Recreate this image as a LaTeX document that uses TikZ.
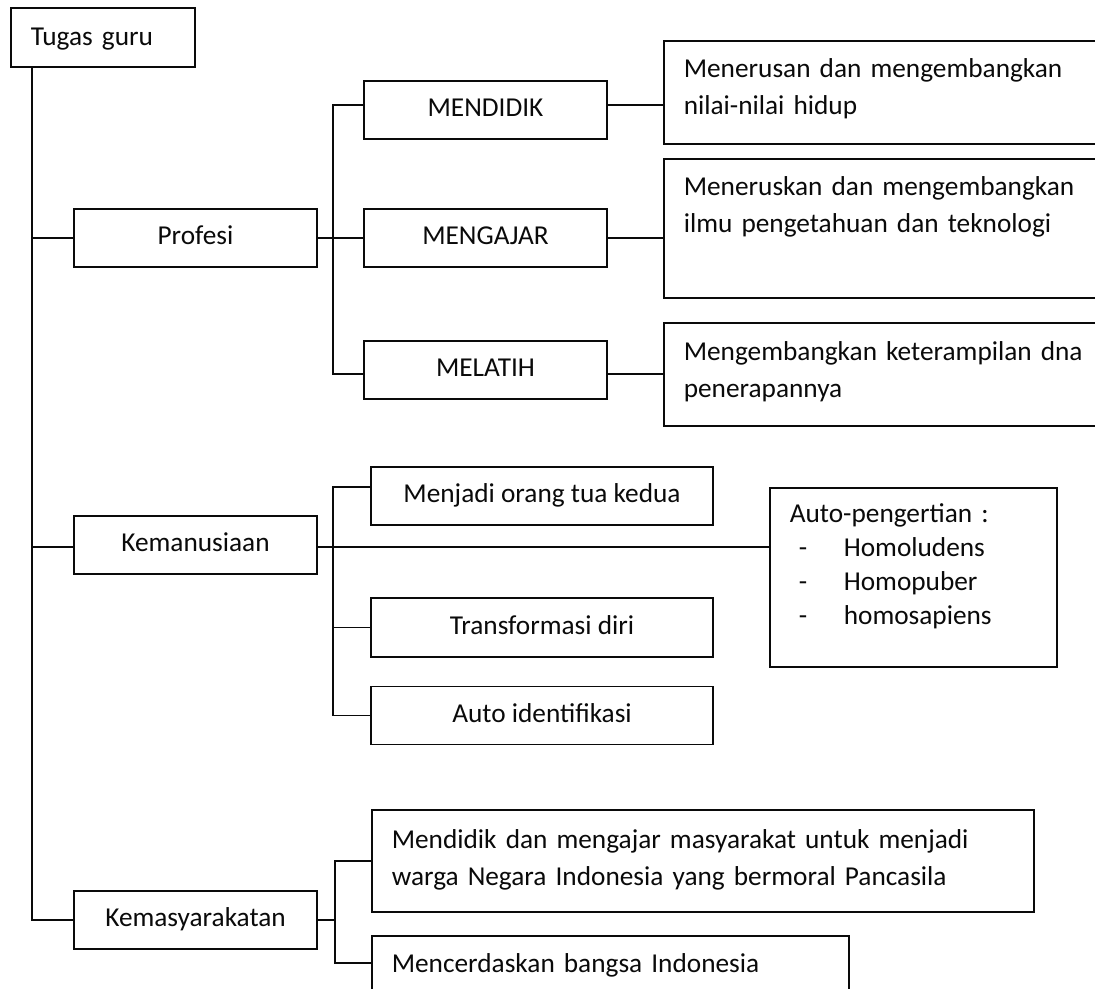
\documentclass[tikz,border=0pt]{standalone}
\usepackage{fontspec}
\setmainfont{Carlito}
\usepackage{tikz}
\usetikzlibrary{calc, positioning}
\definecolor{InkBlack}{RGB}{10, 10, 10}

\begin{document}
\begin{tikzpicture}[x=1bp, y=-1bp, line width=1.6bp, InkBlack,
    every node/.style={font=\fontsize{27.3bp}{37bp}\selectfont},
    catbox/.style={draw, inner sep=0pt, minimum height=58bp, text height=19bp, text depth=6bp},
    notebox/.style={draw, anchor=north west, align=left, inner xsep=20bp, inner ysep=0pt}]
    \useasboundingbox (0,0) rectangle (1095,989);
    \clip (0,0) rectangle (1095,989);
    % root
    \node[notebox, text width=144bp, text height=38bp, text depth=21bp] (tugas) at (10,7) {Tugas guru};
    % three tasks
    \node[catbox, minimum width=243bp] (profesi) at (195.5,238) {Profesi};
    \node[catbox, minimum width=243bp] (manusia) at (195.5,545) {Kemanusiaan};
    \node[catbox, minimum width=243bp] (masyarakat) at (195.5,920) {Kemasyarakatan};
    % Profesi
    \node[catbox, minimum width=243bp] (mendidik) at (485.5,110) {MENDIDIK};
    \node[catbox, minimum width=243bp] (mengajar) at (485.5,238) {MENGAJAR};
    \node[catbox, minimum width=243bp] (melatih) at (485.5,370) {MELATIH};
    \node[notebox, text width=440bp, text height=37bp, text depth=66bp] (nilai) at (663,40)
        {Menerusan dan mengembangkan\\nilai-nilai hidup};
    \node[notebox, text width=440bp, text height=37bp, text depth=102bp] (ilmu) at (663,158)
        {Meneruskan dan mengembangkan\\ilmu pengetahuan dan teknologi};
    \node[notebox, text width=440bp, text height=38bp, text depth=65bp] (terampil) at (663,322)
        {Mengembangkan keterampilan dna\\penerapannya};
    % Kemanusiaan
    \node[catbox, minimum width=342bp] (ortu) at (542,496) {Menjadi orang tua kedua};
    \node[catbox, minimum width=342bp, minimum height=59bp] (transformasi) at (542,627.5) {Transformasi diri};
    \node[catbox, minimum width=342bp] (autoid) at (542,715.5) {Auto identifikasi};
    \node[notebox, text width=247bp, text height=35bp, text depth=144bp,
        font=\fontsize{27.3bp}{34bp}\selectfont] (pengertian) at (769,487)
        {Auto-pengertian :\\
         \hspace*{9bp}\makebox[45bp][l]{-}Homoludens\\
         \hspace*{9bp}\makebox[45bp][l]{-}Homopuber\\
         \hspace*{9bp}\makebox[45bp][l]{-}homosapiens};
    % Kemasyarakatan
    \node[notebox, text width=622bp, text height=39bp, text depth=63bp] (warga) at (371,809)
        {Mendidik dan mengajar masyarakat untuk menjadi\\warga Negara Indonesia yang bermoral Pancasila};
    \node[notebox, text width=437bp, text height=37bp, text depth=40bp] (cerdas) at (371,935)
        {Mencerdaskan bangsa Indonesia};

    % trunk
    \draw ([xshift=22bp]tugas.south west) coordinate (trunk) |- (masyarakat.west);
    \draw (profesi.west) -- (profesi.west -| trunk);
    \draw ([yshift=-2bp]manusia.west) -- ([yshift=-2bp]manusia.west -| trunk);
    % Profesi branches
    \draw (profesi.east) -- (mengajar.west);
    \draw ([yshift=5bp]mendidik.west) -- ++(-30,0) |- ([yshift=-4bp]melatih.west);
    \draw ([yshift=5bp]mendidik.east) -- ([yshift=5bp]mendidik.east -| nilai.west);
    \draw (mengajar.east) -- (mengajar.east -| ilmu.west);
    \draw ([yshift=-4bp]melatih.east) -- ([yshift=-4bp]melatih.east -| terampil.west);
    % Kemanusiaan branches
    \draw ([yshift=-2bp]manusia.east) -- ([yshift=-2bp]manusia.east -| pengertian.west);
    \draw ([yshift=9bp]ortu.west) -- ++(-37,0) |- (autoid.west);
    \draw (transformasi.west) -- ++(-37,0);
    % Kemasyarakatan branches
    \draw (masyarakat.east) -- ++(18,0);
    \draw (warga.west) -- ++(-36,0) |- ([yshift=10bp]cerdas.base west);
\end{tikzpicture}
\end{document}
